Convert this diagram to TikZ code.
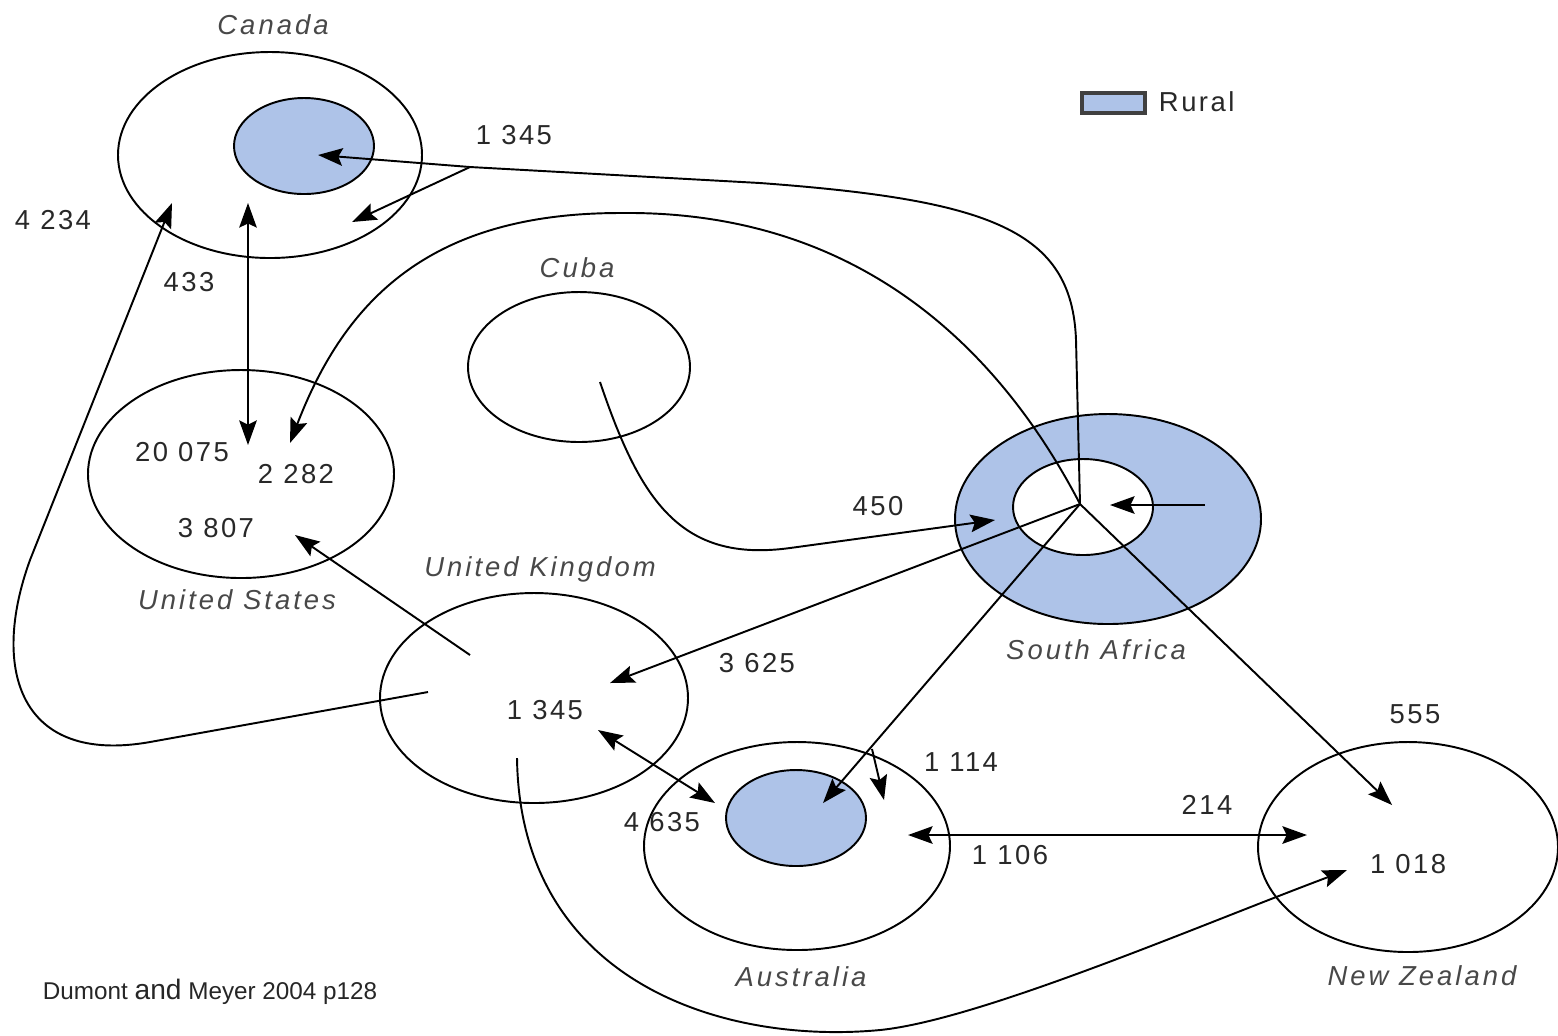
\documentclass[tikz,border=0pt]{standalone}
\usepackage{fontspec}
\setmainfont{Liberation Sans}
\usetikzlibrary{arrows.meta}
\definecolor{rural}{RGB}{174,195,232}
\definecolor{ink}{RGB}{40,40,40}
\newcommand{\numfont}{\fontsize{7.8}{9}\selectfont\addfontfeature{LetterSpace=9}}
\newcommand{\landfont}{\fontsize{7.8}{9}\selectfont\itshape\addfontfeature{LetterSpace=11}}

\begin{document}
\begin{tikzpicture}[x=0.01cm,y=-0.01cm,line width=0.55pt,
		>={Stealth[length=7pt,width=5pt,inset=1.2pt]},
		num/.style={font=\numfont,text=ink,inner sep=0pt},
		land/.style={font=\landfont,text=ink!85,inner sep=0pt}]
	\useasboundingbox (0,0) rectangle (1558,1035);
	% countries
	\draw (270,155) ellipse [x radius=152,y radius=103];
	\draw[fill=rural] (304,146) ellipse [x radius=70,y radius=48];
	\draw (241,474) ellipse [x radius=153,y radius=104];
	\draw (579,367) ellipse [x radius=111,y radius=75];
	\draw[fill=rural] (1108,519) ellipse [x radius=153,y radius=105];
	\draw[fill=white] (1083,507) ellipse [x radius=70,y radius=48];
	\draw (534,698) ellipse [x radius=154,y radius=105];
	\draw (797,846) ellipse [x radius=153,y radius=104];
	\draw[fill=rural] (796,818) ellipse [x radius=70,y radius=48];
	\draw (1408,847) ellipse [x radius=150,y radius=105];
	% names
	\foreach \n/\x/\y/\txt in {canada/273/25/Canada, cuba/577/268/Cuba, usa/237/600/United States,
		uk/540/569/United Kingdom, rsa/1096/650/South Africa, aus/801/977/Australia, nz/1422/976/New Zealand}
		\node[land] (\n) at (\x,\y) {\txt};
	% flows
	\foreach \n/\x/\y/\txt in {a/514/135/1 345, b/53/220/4 234, c/189/282/433, d/182/452/20 075,
		e/296/474/2 282, f/216/528/3 807, g/878/506/450, h/757/663/3 625, i/545/710/1 345,
		j/961/762/1 114, k/662/822/4 635, l/1010/855/1 106, m/1207/805/214, o/1415/714/555, p/1408/864/1 018}
		\node[num] (n\n) at (\x,\y) {\txt};
	\coordinate (sa) at (1080,504);
	\coordinate (saTop) at (1076,340);
	\coordinate (caJ) at (470,167);
	\coordinate (caR) at (318,155);
	\coordinate (caU) at (352,222);
	\coordinate (caB) at (248,203);
	\coordinate (usT) at (248,445);
	\coordinate (caL) at (172,203);
	\coordinate (ukL) at (428,692);
	\coordinate (usA) at (290,443);
	\coordinate (usB) at (295,535);
	\coordinate (ukN) at (470,655);
	\coordinate (cuS) at (600,382);
	\coordinate (saW) at (995,520);
	\coordinate (ukE) at (610,683);
	\coordinate (auR) at (823,803);
	\coordinate (auJ) at (872,749);
	\coordinate (auU) at (884,800);
	\coordinate (nzN) at (1392,805);
	\coordinate (saE) at (1205,505);
	\coordinate (saI) at (1110,505);
	\coordinate (ukS) at (598,730);
	\coordinate (auW) at (715,803);
	\coordinate (auE) at (908,835);
	\coordinate (nzW) at (1307,835);
	\coordinate (ukB) at (517,758);
	\coordinate (nzS) at (1347,870);
	\draw (sa) -- (saTop) .. controls (1072,230) and (990,200) .. (760,183) -- (caJ);
	\draw[->] (caJ) -- (caR);
	\draw[->] (caJ) -- (caU);
	\draw[<->] (caB) -- (usT);
	\draw[->] (ukL) -- (150,742) .. controls (20,765) and (-10,670) .. (30,560) -- (caL);
	\draw[->] (sa) .. controls (1000,350) and (860,210) .. (620,213) .. controls (430,213) and (345,300) .. (usA);
	\draw[->] (ukN) -- (usB);
	\draw[->] (cuS) .. controls (640,500) and (680,563) .. (790,548) -- (saW);
	\draw[->] (sa) -- (ukE);
	\draw[->] (sa) -- (auR);
	\draw[->] (auJ) -- (auU);
	\draw[->] (sa) -- (nzN);
	\draw[->] (saE) -- (saI);
	\draw[<->] (ukS) -- (auW);
	\draw[<->] (auE) -- (nzW);
	\draw[->] (ukB) .. controls (520,980) and (720,1045) .. (880,1030) .. controls (980,1020) and (1200,925) .. (nzS);
	% key and source
	\draw[line width=1pt,draw=black!75,fill=rural] (1082,93) rectangle (1145,113);
	\node[num,anchor=west] (rural) at (1158,102) {Rural};
	\node[anchor=west,inner sep=0pt,font=\fontsize{6.9}{8}\selectfont,text=black!85] (src) at (42,992)
		{Dumont {\fontsize{8}{8}\selectfont and} Meyer 2004 p128};
\end{tikzpicture}
\end{document}
